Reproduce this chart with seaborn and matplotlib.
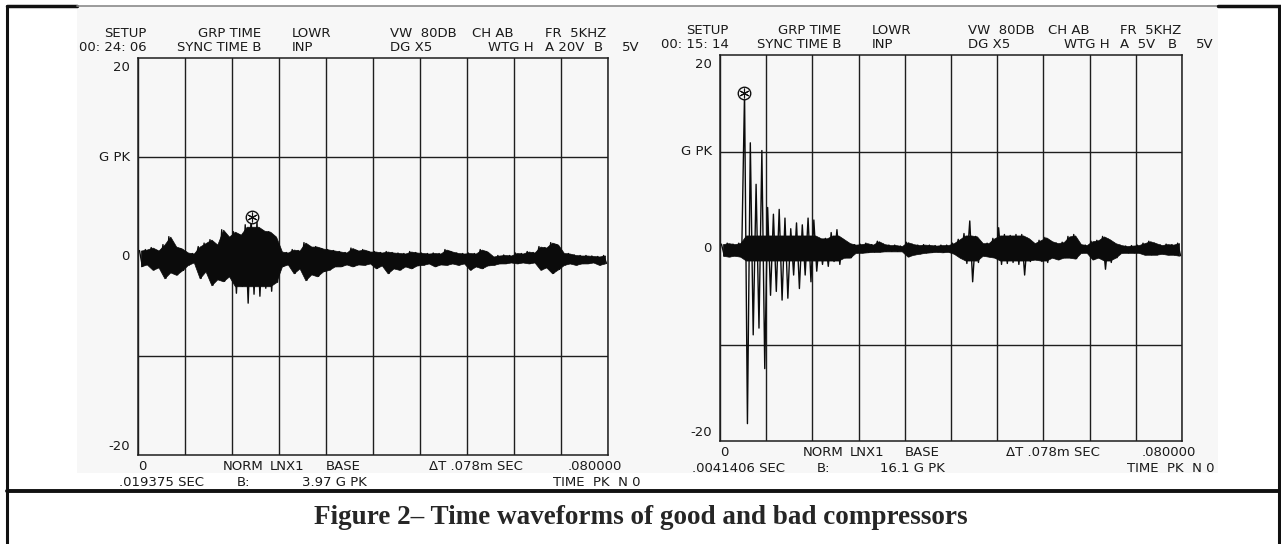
import matplotlib
matplotlib.use("Agg")
import matplotlib.pyplot as plt
import matplotlib.transforms as mtransforms
from matplotlib.lines import Line2D
from matplotlib.patches import Rectangle
import numpy as np
import pandas as pd
import seaborn as sns

# peak envelope per 1 ms bin (G), 0..80 ms
good_hi = [0.6, 0.7, 0.9, 0.6, 1.2, 2.0, 1.0, 0.8, 0.4, 0.3,
           1.0, 1.35, 1.7, 1.2, 2.7, 2.0, 2.5, 2.2, 3.2, 3.97,
           3.5, 2.6, 2.5, 2.0, 0.5, 0.4, 0.7, 0.6, 1.4, 1.0,
           1.0, 0.8, 0.7, 0.6, 0.5, 0.4, 0.85, 0.6, 0.7, 0.5,
           0.5, 0.4, 0.5, 0.4, 0.35, 0.3, 0.5, 0.4, 0.35, 0.3,
           0.35, 0.3, 0.7, 0.5, 0.35, 0.3, 0.35, 0.3, 0.7, 0.5,
           0.0, 0.1, 0.15, 0.1, 0.35, 0.3, 0.5, 0.4, 1.0, 0.9,
           1.4, 1.2, 0.35, 0.3, 0.15, 0.1, 0.1, 0.05, 0.0, 0.1]
good_lo = [-1.0, -0.8, -1.35, -1.1, -2.2, -1.6, -1.85, -1.4, -0.85, -0.6,
           -2.2, -1.5, -2.9, -2.3, -2.5, -2.0, -3.7, -3.0, -4.7, -3.8,
           -4.0, -3.2, -3.5, -2.6, -1.0, -0.8, -1.7, -1.2, -2.4, -1.8,
           -2.0, -1.5, -1.35, -1.0, -1.0, -0.8, -1.0, -0.8, -0.85, -0.7,
           -1.2, -0.9, -1.7, -1.2, -1.35, -1.0, -1.2, -0.9, -0.85, -0.7,
           -1.0, -0.8, -0.85, -0.7, -0.85, -0.7, -1.35, -1.0, -1.2, -0.9,
           -0.85, -0.7, -0.7, -0.6, -0.7, -0.6, -0.7, -0.6, -1.35, -1.1,
           -1.7, -1.3, -0.85, -0.7, -0.85, -0.7, -0.7, -0.6, -0.85, -0.7]

bad_hi = [0.4, 0.5, 0.4, 0.5, 16.1, 10.9, 6.6, 10.1, 4.2, 3.5,
          4.0, 3.1, 2.0, 2.6, 2.4, 3.1, 2.9, 1.0, 1.0, 1.6,
          1.9, 0.9, 0.5, 0.35, 0.4, 0.5, 0.35, 0.7, 0.4, 0.3,
          0.3, 0.2, 0.6, 0.4, 0.3, 0.35, 0.3, 0.25, 0.3, 0.3,
          0.5, 0.9, 1.5, 2.8, 1.2, 0.5, 0.5, 1.0, 2.1, 1.4,
          1.3, 1.4, 1.4, 1.0, 0.5, 0.8, 1.1, 0.7, 0.5, 0.6,
          1.2, 1.4, 0.4, 0.3, 0.7, 0.8, 1.2, 0.9, 0.5, 0.3,
          0.2, 0.25, 0.3, 0.5, 0.7, 0.5, 0.3, 0.4, 0.35, 0.5]
bad_lo = [-0.8, -0.9, -0.8, -0.9, -18.2, -9.0, -8.3, -12.5, -4.9, -4.5,
          -5.4, -5.2, -2.8, -4.2, -2.8, -3.5, -2.4, -1.7, -1.9, -1.4,
          -1.7, -1.0, -1.0, -0.5, -0.5, -0.45, -0.4, -0.4, -0.35, -0.35,
          -0.35, -0.35, -0.9, -0.7, -0.6, -0.5, -0.45, -0.4, -0.45, -0.4,
          -0.6, -1.0, -1.6, -3.5, -1.5, -0.8, -0.9, -1.0, -1.7, -1.6,
          -1.5, -1.7, -2.8, -1.4, -1.2, -1.4, -1.5, -1.0, -1.2, -1.0,
          -1.0, -1.1, -0.5, -0.5, -1.2, -1.0, -2.2, -1.5, -1.0, -0.5,
          -0.5, -0.5, -0.5, -0.7, -0.7, -0.7, -0.6, -0.7, -0.7, -0.8]

# cursor (ms, G pk)
good_cursor = [19.375, 3.97]
bad_cursor = [4.1406, 16.1]

header_row1 = ["SETUP", "GRP TIME", "LOWR", "VW  80DB", "CH AB", "FR  5KHZ"]
good_row2 = ["00: 24: 06", "SYNC TIME B", "INP", "DG X5", "WTG H", "A 20V", "B", "5V"]
bad_row2 = ["00: 15: 14", "SYNC TIME B", "INP", "DG X5", "WTG H", "A  5V", "B", "5V"]
footer_row1 = ["0", "NORM", "LNX1", "BASE", "\u0394T .078m SEC", ".080000"]
good_footer2 = [".019375 SEC", "B:", "3.97 G PK", "TIME  PK  N 0"]
bad_footer2 = [".0041406 SEC", "B:", "16.1 G PK", "TIME  PK  N 0"]
y_labels = ["20", "G PK", "0", "-20"]
y_label_vals = [20, 10, 0, -20]
caption = "Figure 2\u2013 Time waveforms of good and bad compressors"

sns.set_theme(style="white")
plt.rcParams["font.family"] = ["DejaVu Sans"]

W, H = 1281, 544
fig = plt.figure(figsize=(W / 100, H / 100), dpi=100)
fig.patch.set_facecolor("white")


def px(x0, y0, x1, y1):
    # pixel box -> figure fraction [left, bottom, width, height]
    return [x0 / W, 1 - y1 / H, (x1 - x0) / W, (y1 - y0) / H]


# scanned sheet background
fig.patches.append(Rectangle((77 / W, 1 - 473 / H), (1218 - 77) / W, (473 - 6) / H,
                             transform=fig.transFigure, facecolor="#f7f7f7",
                             edgecolor="none", zorder=-5))

# table borders
ink = "#111111"
fig.add_artist(Line2D([7 / W, 7 / W], [0, 1 - 6 / H], color=ink, lw=2.2))
fig.add_artist(Line2D([1279 / W, 1279 / W], [0, 1 - 6 / H], color=ink, lw=2.2))
fig.add_artist(Line2D([7 / W, 77 / W], [1 - 6 / H] * 2, color=ink, lw=2.5))
fig.add_artist(Line2D([77 / W, 1218 / W], [1 - 6 / H] * 2, color="#8a8a8a", lw=1.2))
fig.add_artist(Line2D([1218 / W, 1], [1 - 6 / H] * 2, color=ink, lw=2.5))
fig.add_artist(Line2D([7 / W, 1], [1 - 491 / H] * 2, color=ink, lw=2.8))

fig.text(0.5, 1 - 517 / H, caption, ha="center", va="center",
         fontsize=19.5, fontweight="bold", family=["Liberation Serif", "DejaVu Serif"])

row1_pos = [(0.019, "right"), (0.262, "right"), (0.328, "left"), (0.536, "left"),
            (0.71, "left"), (0.866, "left")]
row2_pos = [(0.019, "right"), (0.262, "right"), (0.328, "left"), (0.536, "left"),
            (0.745, "left"), (0.866, "left"), (0.970, "left"), (1.03, "left")]
foot1_pos = [(0.0, "left"), (0.18, "left"), (0.28, "left"), (0.40, "left"),
             (0.62, "left"), (1.03, "right")]
foot2_pos = [(0.14, "right"), (0.21, "left"), (0.487, "right"), (1.07, "right")]

txt = dict(fontsize=9.5, color="#1a1a1a")
trace = "#0b0b0b"


def panel(box, hi, lo, cursor, row2, foot2, core):
    ax = fig.add_axes(px(*box))
    ax.set_facecolor("none")
    t, g = [], []
    for i in range(len(hi)):
        t += [i + 0.25, i + 0.75]
        g += [hi[i], lo[i]]
    df = pd.DataFrame({"ms": t, "g": g})
    # dense part of the pen trace drawn solid, the big swings as single strokes
    mid = np.arange(len(hi)) + 0.5
    ax.fill_between(mid, np.minimum(hi, core), np.maximum(lo, -core),
                    color=trace, lw=0.5)
    sns.lineplot(data=df, x="ms", y="g", ax=ax, color=trace, lw=1.0,
                 estimator=None, sort=False)
    ax.plot(cursor[0], cursor[1], "o", ms=9, mfc="#f7f7f7", mec="#111", mew=1.0)
    ax.plot(cursor[0], cursor[1], marker=(6, 2, 0), ms=7, color="#111", mew=0.8)

    ax.set_xlim(0, 80)
    ax.set_ylim(-20, 20)
    ax.set_xticks(np.arange(0, 81, 8))
    ax.set_yticks([-10, 10])
    ax.grid(True, color="#1e1e1e", lw=1.0)
    ax.tick_params(length=0, labelbottom=False, labelleft=False)
    ax.set_xlabel("")
    ax.set_ylabel("")
    for s in ax.spines.values():
        s.set_color("#1e1e1e")
        s.set_linewidth(1.1)
        s.set_visible(True)

    def put(xf, yf, dy, s, ha, dx=0):
        tr = mtransforms.offset_copy(ax.transAxes, fig=fig, x=dx, y=dy, units="dots")
        ax.text(xf, yf, s, transform=tr, ha=ha, va="center", clip_on=False, **txt)

    for s, (xf, ha) in zip(header_row1, row1_pos):
        put(xf, 1, 25, s, ha)
    for s, (xf, ha) in zip(row2, row2_pos):
        put(xf, 1, 11, s, ha)
    for s, (xf, ha) in zip(footer_row1, foot1_pos):
        put(xf, 0, -12, s, ha)
    for s, (xf, ha) in zip(foot2, foot2_pos):
        put(xf, 0, -28, s, ha)
    for s, v in zip(y_labels, y_label_vals):
        dy = -9 if v == 20 else (9 if v == -20 else 0)
        put(0, (v + 20) / 40, dy, s, "right", dx=-8)
    return ax


panel((138, 58, 608, 455), good_hi, good_lo, good_cursor, good_row2, good_footer2, 3.0)
panel((720, 55, 1182, 441), bad_hi, bad_lo, bad_cursor, bad_row2, bad_footer2, 1.3)

fig.savefig("out.png", dpi=100, facecolor=fig.get_facecolor())
